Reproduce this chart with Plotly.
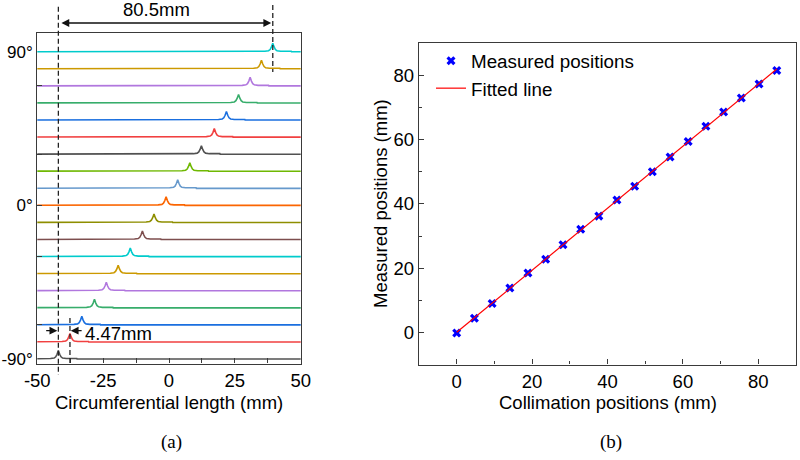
import plotly.graph_objects as go
import numpy as np

# ---------------- data ----------------
# panel (a): peak centres (mm) for each angle, -90 .. 90 deg
angles = [-90, -80, -70, -60, -50, -40, -30, -20, -10, 0, 10, 20, 30, 40, 50, 60, 70, 80, 90]
peak_mm = [-42.0, -37.6, -33.1, -28.3, -23.8, -19.3, -14.7, -10.1, -5.7, -1.1,
           3.3, 7.9, 12.3, 17.2, 21.8, 26.4, 30.8, 35.1, 39.4]
# peak profile (offset in mm, height in offset units)
prof_off = [-11.0, -10.9, -3.0, -1.6, -1.0, -0.5, 0.0, 0.5, 1.0, 1.6, 3.0, 7.0, 7.1]
prof_val = [0.0, 0.3, 0.3, 0.6, 1.3, 2.8, 5.0, 2.8, 1.3, 0.6, 0.3, 0.3, 0.0]
palette = ["#515151", "#F14040", "#1A6FDF", "#37AD6B", "#B177DE", "#CC9900",
           "#00CBCC", "#7D4E4E", "#8E8E00", "#FB6501", "#6699CC", "#6FB802"]
a_xticks = [-50, -25, 0, 25, 50]
a_xtext = ["-50", "-25", "0", "25", "50"]
a_yticks = [90, 0, -90]
a_ytext = ["90°", "0°", "-90°"]

# panel (b)
collim = [0, 4.7, 9.4, 14.1, 18.9, 23.6, 28.2, 32.9, 37.7, 42.5, 47.2, 51.9,
          56.6, 61.4, 66.1, 70.8, 75.5, 80.2, 84.9]
measured = [-0.2, 4.4, 9.0, 13.8, 18.5, 22.8, 27.3, 32.1, 36.2, 41.2, 45.5, 50.0,
            54.6, 59.4, 64.2, 68.6, 73.0, 77.3, 81.5]
b_ticks = [0, 20, 40, 60, 80]

FONT = "Liberation Sans, Arial, sans-serif"
SERIF = "Liberation Serif, Times New Roman, serif"
FRAME = "#3a3a3a"
W, H = 800, 460


def px(x):
    return x / W


def py(y):
    return 1 - y / H


fig = go.Figure()

for i, (ang, p) in enumerate(zip(angles, peak_mm)):
    xs = [-60] + [p + o for o in prof_off] + [60]
    ys = [ang] + [ang + v for v in prof_val] + [ang]
    fig.add_trace(go.Scatter(x=xs, y=ys, mode="lines", xaxis="x", yaxis="y",
                             line=dict(color=palette[i % 12], width=1.6),
                             showlegend=False, hoverinfo="skip"))

fig.add_trace(go.Scatter(x=collim, y=measured, mode="markers", xaxis="x2", yaxis="y2",
                         name="Measured positions",
                         marker=dict(symbol="x", size=8, color="#0000FF",
                                     line=dict(width=0))))
k, b = np.polyfit(collim, measured, 1)
fx = np.array([collim[0], collim[-1]])
fig.add_trace(go.Scatter(x=fx, y=k * fx + b, mode="lines", xaxis="x2", yaxis="y2",
                         name="Fitted line", line=dict(color="#FF0000", width=1.2)))

axis_common = dict(showline=True, mirror=True, linecolor=FRAME, linewidth=1.3,
                   showgrid=False, zeroline=False, ticks="inside", ticklen=5,
                   tickcolor=FRAME, tickwidth=1.2, automargin=False,
                   tickfont=dict(family=FONT, size=18.5, color="#000"))

fig.update_layout(
    template="none",
    width=W, height=H, margin=dict(l=0, r=0, t=0, b=0),
    paper_bgcolor="white", plot_bgcolor="white",
    font=dict(family=FONT, size=18, color="#000"),
    xaxis=dict(domain=[px(37.3), px(300.7)], range=[-50, 50], tickmode="array",
               tickvals=a_xticks, ticktext=a_xtext,
               minor=dict(tickmode="array", tickvals=[-37.5, -12.5, 12.5, 37.5],
                          ticks="inside", ticklen=5, tickcolor=FRAME, tickwidth=1.2),
               anchor="y", **axis_common),
    yaxis=dict(domain=[py(363.5), py(33.3)], range=[-92.6, 100.8], tickmode="array",
               tickvals=a_yticks, ticktext=a_ytext,
               minor=dict(tickmode="array", tickvals=[70, 30, 0, -30, -70],
                          ticks="inside", ticklen=5, tickcolor=FRAME, tickwidth=1.2),
               anchor="x", **{**axis_common, "ticks": "",
                              "tickfont": dict(family=FONT, size=17, color="#000")}),
    xaxis2=dict(domain=[px(419), px(796)], range=[-10, 90], tickmode="array",
                tickvals=b_ticks,
                minor=dict(dtick=10, tick0=0, ticks="inside", ticklen=3,
                           tickcolor=FRAME, tickwidth=1.2),
                anchor="y2", **axis_common),
    yaxis2=dict(domain=[py(364.5), py(43.3)], range=[-10, 90], tickmode="array",
                tickvals=b_ticks,
                minor=dict(dtick=10, tick0=0, ticks="inside", ticklen=3,
                           tickcolor=FRAME, tickwidth=1.2),
                anchor="x2", **axis_common),
    legend=dict(x=px(431), y=py(42), xanchor="left", yanchor="top",
                bgcolor="rgba(0,0,0,0)", font=dict(family=FONT, size=18.8),
                tracegroupgap=0),
)

# dashed guide lines (x in data units, y in paper fraction)
dash = dict(color="#222", width=1.3, dash="5px,3px")
fig.add_shape(type="line", xref="x", yref="paper", x0=peak_mm[0], x1=peak_mm[0],
              y0=py(6.7), y1=py(375), line=dash)
fig.add_shape(type="line", xref="x", yref="paper", x0=peak_mm[-1], x1=peak_mm[-1],
              y0=py(5), y1=py(72), line=dash)
fig.add_shape(type="line", xref="x", yref="paper", x0=peak_mm[1], x1=peak_mm[1],
              y0=py(318), y1=py(365), line=dash)

arrow = dict(showarrow=True, arrowhead=2, arrowsize=1.2, arrowwidth=1.3,
             arrowcolor="#111", text="")
# 80.5 mm span arrow
fig.add_annotation(xref="x", yref="paper", x=peak_mm[-1] - 0.6, y=py(23),
                   axref="x", ayref="pixel", ax=peak_mm[0] + 0.6, ay=0,
                   arrowside="end+start", **arrow)
fig.add_annotation(xref="x", yref="paper", x=-4.7, y=py(10), showarrow=False,
                   xanchor="center", yanchor="middle",
                   text="80.5mm", font=dict(family=FONT, size=18.5))
# 4.47 mm arrows
fig.add_annotation(xref="x", yref="paper", x=peak_mm[0] - 0.4, y=py(330.7),
                   axref="x", ayref="pixel", ax=-47.2, ay=0, **arrow)
fig.add_annotation(xref="x", yref="paper", x=peak_mm[1] + 0.3, y=py(330.7),
                   axref="x", ayref="pixel", ax=-32.6, ay=0, **arrow)
fig.add_annotation(xref="x", yref="paper", x=-32.8, y=py(333), xanchor="left",
                   yanchor="middle",
                   showarrow=False, text="4.47mm", font=dict(family=FONT, size=18.5))

# axis titles
fig.add_annotation(xref="paper", yref="paper", x=px(168.5), y=py(402),
                   xanchor="center", yanchor="middle",
                   showarrow=False, text="Circumferential length (mm)",
                   font=dict(family=FONT, size=18.5))
fig.add_annotation(xref="paper", yref="paper", x=px(608), y=py(402),
                   xanchor="center", yanchor="middle",
                   showarrow=False, text="Collimation positions (mm)",
                   font=dict(family=FONT, size=18.5))
fig.add_annotation(xref="paper", yref="paper", x=px(380), y=py(204),
                   xanchor="center", yanchor="middle",
                   showarrow=False, text="Measured positions (mm)", textangle=-90,
                   font=dict(family=FONT, size=18.5))
# panel labels
fig.add_annotation(xref="paper", yref="paper", x=px(171), y=py(442),
                   xanchor="center", yanchor="middle",
                   showarrow=False, text="(a)", font=dict(family=SERIF, size=19))
fig.add_annotation(xref="paper", yref="paper", x=px(611), y=py(442),
                   xanchor="center", yanchor="middle",
                   showarrow=False, text="(b)", font=dict(family=SERIF, size=19))

fig.write_html("out.html", config={"displayModeBar": False},
               post_script="document.body.style.margin='0';")
